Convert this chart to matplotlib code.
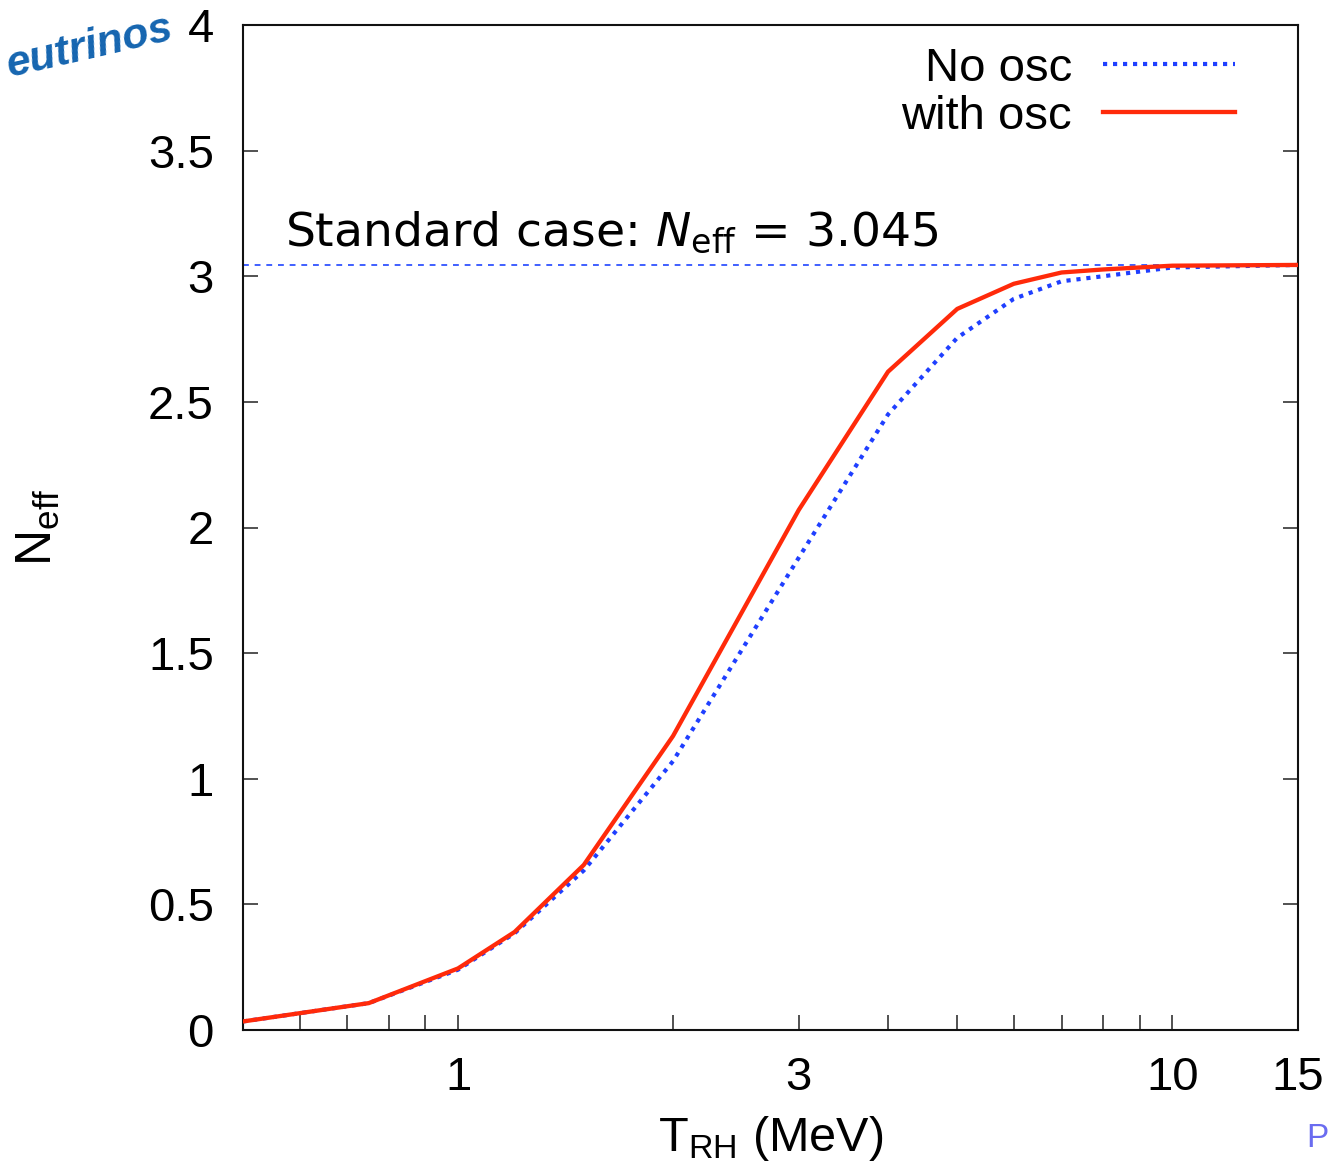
import matplotlib
matplotlib.use("Agg")
import matplotlib.pyplot as plt
from matplotlib.ticker import FixedLocator, NullFormatter, FixedFormatter

# ---- data ----
T_rh = [0.5, 0.75, 1.0, 1.2, 1.5, 2.0, 3.0, 4.0, 5.0, 6.0, 7.0, 8.0, 10.0, 15.0]
neff_with_osc = [0.034, 0.107, 0.245, 0.39, 0.657, 1.17, 2.07, 2.62, 2.87, 2.97, 3.015, 3.027, 3.042, 3.045]
neff_no_osc = [0.034, 0.107, 0.240, 0.385, 0.635, 1.07, 1.88, 2.45, 2.755, 2.91, 2.98, 3.00, 3.035, 3.045]
neff_standard = 3.045

x_major = [1, 3, 10, 15]
x_major_labels = ["1", "3", "10", "15"]
x_minor = [0.6, 0.7, 0.8, 0.9, 2, 4, 5, 6, 7, 8, 9]
y_ticks = [0, 0.5, 1, 1.5, 2, 2.5, 3, 3.5, 4]
y_tick_labels = ["0", "0.5", "1", "1.5", "2", "2.5", "3", "3.5", "4"]

plt.rcParams["font.family"] = ["Liberation Sans", "DejaVu Sans"]
plt.rcParams["mathtext.default"] = "regular"

W, H = 1329, 1167
fig = plt.figure(figsize=(W / 100, H / 100), dpi=100)
ax = fig.add_axes([243 / W, 1 - 1030 / H, (1298 - 243) / W, (1030 - 25) / H])

ax.set_xscale("log")
ax.set_xlim(0.5, 15)
ax.set_ylim(0, 4)

ax.axhline(neff_standard, color="#1f44ff", lw=1.2, linestyle=(0, (3.5, 3.5)), zorder=1)
ax.plot(T_rh, neff_no_osc, color="#1f3fff", lw=3.0, linestyle=(0, (1, 1.4)),
        label="No osc", zorder=2)
ax.plot(T_rh, neff_with_osc, color="#ff2a0a", lw=3.1, linestyle="-",
        label="with osc", zorder=3)

ax.xaxis.set_major_locator(FixedLocator(x_major))
ax.xaxis.set_major_formatter(FixedFormatter(x_major_labels))
ax.xaxis.set_minor_locator(FixedLocator(x_minor))
ax.xaxis.set_minor_formatter(NullFormatter())
ax.set_yticks(y_ticks)
ax.set_yticklabels(y_tick_labels)

ax.tick_params(axis="both", which="both", direction="in", length=11, width=1.1,
               color="#222222", labelsize=34, pad=21)
ax.tick_params(axis="x", which="both", pad=19)
ax.tick_params(axis="y", which="both", right=True)
ax.tick_params(axis="x", which="both", top=False)
for s in ax.spines.values():
    s.set_linewidth(1.5)
    s.set_color("#111111")

ax.set_xlabel(r"T$_{RH}$ (MeV)", fontsize=35, labelpad=10)
ax.set_ylabel(r"N$_{eff}$", fontsize=36, labelpad=62)

leg = ax.legend(loc="upper right", bbox_to_anchor=(0.958, 0.997), frameon=False,
                markerfirst=False, fontsize=34, handlelength=2.8,
                handletextpad=0.65, labelspacing=0.08, alignment="right",
                borderaxespad=0.0)

ax.text(0.04, 0.781, r"Standard case: $\mathit{N}_{\mathrm{eff}}$ = 3.045",
        transform=ax.transAxes, fontsize=34, family="DejaVu Sans",
        math_fontfamily="dejavusans", ha="left", va="baseline")

fig.text(0.002, 0.934, "eutrinos", color="#1565b0", fontsize=31,
         fontweight="bold", fontstyle="italic", rotation=13,
         ha="left", va="baseline")
fig.text(0.983, 0.017, "P", color="#6a6cf0", fontsize=24, ha="left",
         va="baseline")

fig.savefig("out.png", dpi=100)
